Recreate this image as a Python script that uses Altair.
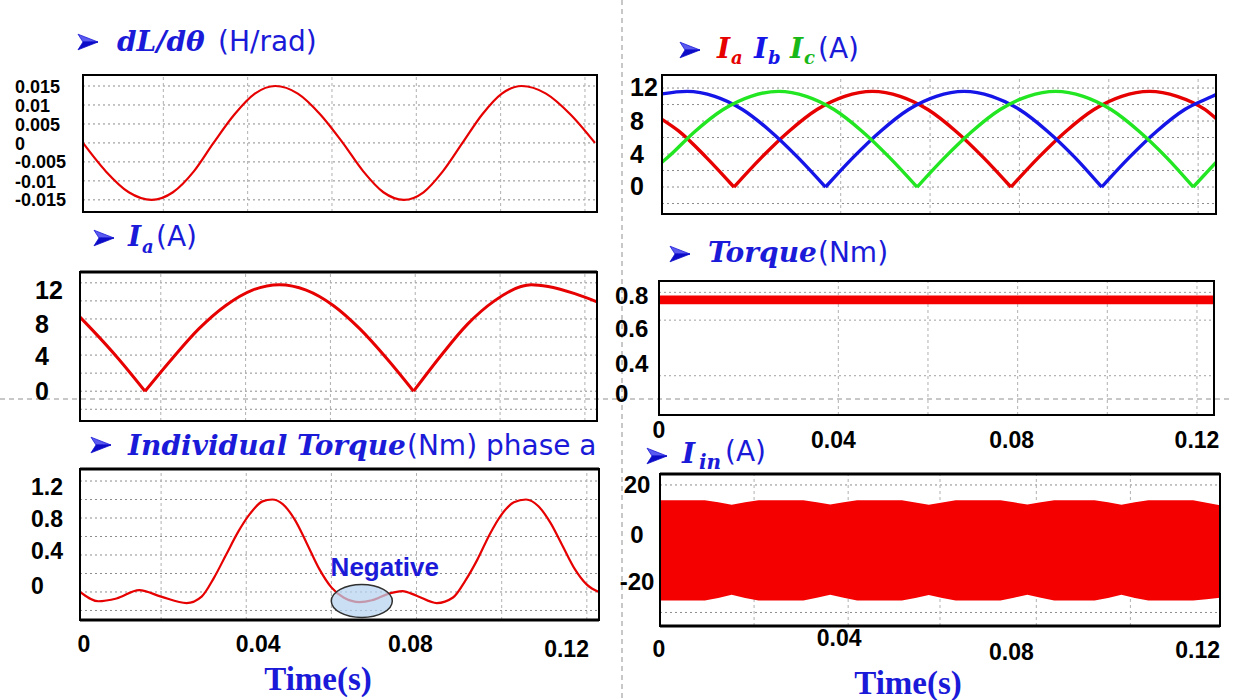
import altair as alt
import pandas as pd

# ---------------- data ----------------
# Panel 1 : dL/dtheta (H/rad)
dl_time = [0.0, 0.0057, 0.0114, 0.0171, 0.0224, 0.0276, 0.0325, 0.0377, 0.0428, 0.0479,
           0.0535, 0.0591, 0.0647, 0.0698, 0.0748, 0.0799, 0.0848, 0.0896, 0.0945, 0.0994,
           0.1043, 0.1092, 0.1153, 0.1214, 0.1275]
dl_value = [0.0, -0.0075, -0.013, -0.015, -0.013, -0.0075, 0.0, 0.0075, 0.013, 0.015,
            0.013, 0.0075, 0.0, -0.0075, -0.013, -0.015, -0.013, -0.0075, 0.0, 0.0075,
            0.013, 0.015, 0.013, 0.0075, 0.0]

# Panel 2 : Ia (A)
ia_time = [0.0, 0.0028, 0.0095, 0.0161, 0.0228, 0.0294, 0.0361, 0.0427, 0.0494, 0.0560,
           0.0627, 0.0693, 0.0760, 0.0826, 0.0893, 0.0959, 0.1026, 0.1092, 0.1117, 0.1159,
           0.1225, 0.128]
ia_value = [8.2, 6.9, 3.6, 0.0, 3.6, 6.9, 9.5, 11.2, 11.8, 11.2,
            9.5, 6.9, 3.6, 0.0, 3.9, 7.4, 10.0, 11.6, 11.8, 11.6,
            10.8, 9.9]
ia_start = [0.0, 8.2]

# Panel 3 : individual torque phase a (Nm)
tq_time = [0.0, 0.0045, 0.0090, 0.0146, 0.0200, 0.0263, 0.0300, 0.0330, 0.0360, 0.0390,
           0.0420, 0.0450, 0.0474, 0.0500, 0.0530, 0.0560, 0.0590, 0.0620, 0.0650, 0.0690,
           0.0720, 0.0760, 0.0795, 0.0830, 0.0880, 0.0920, 0.0950, 0.0980, 0.1010, 0.1040,
           0.1070, 0.1100, 0.1130, 0.1160, 0.1190, 0.1220, 0.1250, 0.1280]
tq_value = [0.0, -0.10, -0.07, 0.02, -0.05, -0.12, -0.05, 0.15, 0.40, 0.65,
            0.85, 0.98, 1.00, 0.95, 0.78, 0.52, 0.25, 0.05, -0.06, -0.11,
            -0.09, -0.02, 0.01, -0.04, -0.12, -0.06, 0.12, 0.35, 0.62, 0.84,
            0.97, 1.00, 0.93, 0.75, 0.50, 0.25, 0.08, 0.0]

# Panel 4 : three phase currents (A)
ia3_time = [0.0, 0.0037, 0.0099, 0.0161, 0.0223, 0.0285, 0.0347, 0.0409, 0.0471, 0.0533, 0.0595,
            0.0657, 0.0719, 0.0781, 0.0843, 0.0905, 0.0967, 0.1029, 0.1091, 0.1153, 0.1215, 0.1240]
ia3_value = [8.2, 6.8, 3.6, 0.0, 3.6, 6.8, 9.4, 11.0, 11.6, 11.0, 9.4,
             6.8, 3.6, 0.0, 3.6, 6.8, 9.4, 11.0, 11.6, 11.0, 9.4, 8.3]
ib3_time = [0.0, 0.0056, 0.0118, 0.0180, 0.0242, 0.0304, 0.0366, 0.0428, 0.0490, 0.0552, 0.0614,
            0.0676, 0.0738, 0.0800, 0.0862, 0.0924, 0.0984, 0.1046, 0.1108, 0.1170, 0.1232, 0.1240]
ib3_value = [11.3, 11.6, 11.0, 9.4, 6.8, 3.6, 0.0, 3.6, 6.8, 9.4, 11.0,
             11.6, 11.0, 9.4, 6.8, 3.6, 0.0, 3.6, 6.8, 9.4, 11.0, 11.2]
ic3_time = [0.0, 0.0013, 0.0075, 0.0137, 0.0199, 0.0261, 0.0323, 0.0385, 0.0447, 0.0509, 0.0571,
            0.0633, 0.0695, 0.0757, 0.0819, 0.0881, 0.0943, 0.1005, 0.1067, 0.1129, 0.1189, 0.1240]
ic3_value = [3.0, 3.6, 6.8, 9.4, 11.0, 11.6, 11.0, 9.4, 6.8, 3.6, 0.0,
             3.6, 6.8, 9.4, 11.0, 11.6, 11.0, 9.4, 6.8, 3.6, 0.0, 3.0]
ib3_start = [3.0, 11.3]
ic3_start = [0.0, 3.0]

# Panel 5 : total torque (Nm) - ripple band
te_time = [0.0, 0.1238]
te_low = [0.765, 0.765]
te_high = [0.835, 0.835]
te_start = [0.0, 0.8]

# Panel 6 : input current envelope (A)
iin_time = [0.0, 0.010, 0.013, 0.016, 0.019, 0.022, 0.032, 0.035, 0.038, 0.041, 0.044,
            0.054, 0.057, 0.060, 0.063, 0.066, 0.076, 0.079, 0.082, 0.085, 0.088,
            0.097, 0.100, 0.103, 0.106, 0.109, 0.119, 0.122, 0.125]
iin_upper = [14.0, 14.0, 13.2, 12.2, 13.2, 14.0, 14.0, 13.2, 12.3, 13.2, 14.0,
             14.0, 13.1, 12.2, 13.1, 14.0, 14.0, 13.2, 12.3, 13.2, 14.0,
             14.0, 13.2, 12.2, 13.2, 14.0, 14.0, 13.0, 12.0]
iin_lower = [-25.3, -25.3, -24.3, -23.0, -24.3, -25.3, -25.3, -24.2, -23.0, -24.2, -25.3,
             -25.3, -24.3, -23.1, -24.3, -25.3, -25.3, -24.2, -23.0, -24.2, -25.3,
             -25.3, -24.3, -23.0, -24.3, -25.3, -25.3, -24.8, -24.2]

# ticks / labels
p1_ticks = [0.015, 0.01, 0.005, 0.0, -0.005, -0.01, -0.015]
p1_labels = ["0.015", "0.01", "0.005", "0", "-0.005", "-0.01", "-0.015"]
p2_ticks = [12, 8, 4, 0]
p2_labels = ["12", "8", "4", "0"]
p2_grid = [-2, 0, 2, 4, 6, 8, 10, 12]
p3_ticks = [1.2, 0.8, 0.4, 0.0]
p3_labels = ["1.2", "0.8", "0.4", "0"]
p3_grid = [-0.2, 0.0, 0.2, 0.4, 0.6, 0.8, 1.0, 1.2]
p4_ticks = [12, 8, 4, 0]
p4_labels = ["12", "8", "4", "0"]
p4_grid = [-2, 0, 2, 4, 6, 8, 10, 12]
p5_ticks = [0.8, 0.6, 0.4, 0.0]
p5_labels = ["0.8", "0.6", "0.4", "0"]
p5_grid = [0.2, 0.64, 0.86]
p6_ticks = [20, 0, -20]
p6_labels = ["20", "0", "-20"]
p6_grid = [20, -30]
time_ticks = [0.0, 0.04, 0.08, 0.12]
time_labels = ["0", "0.04", "0.08", "0.12"]
left_vgrid = [0.02, 0.041, 0.062, 0.083, 0.104, 0.125]
right_vgrid = [0.04, 0.06, 0.08, 0.10, 0.12]
iin_vgrid = [0.021, 0.042, 0.0625, 0.084, 0.105]
negative_spot = [0.0695, -0.097]

# ---------------- styles ----------------
RED = "#e60000"
BAND_RED = "#f50000"
BLUE = "#1515e8"
GREEN = "#22e622"
TGREEN = "#18b818"
TBLUE = "#1a1ad8"
TICKFONT = "Liberation Sans"
SERIF = "DejaVu Serif"
SANS = "DejaVu Sans"

layers = []


def scales(xdom, xrng, ydom, yrng):
    xs = alt.Scale(domain=xdom, range=xrng, zero=False, nice=False)
    ys = alt.Scale(domain=ydom, range=yrng, zero=False, nice=False)
    return xs, ys


def frame(xs, ys, xdom, ydom, sw=2):
    d = pd.DataFrame({"t0": [xdom[0]], "t1": [xdom[1]], "v0": [ydom[0]], "v1": [ydom[1]]})
    return alt.Chart(d).mark_rect(fillOpacity=0, stroke="black", strokeWidth=sw).encode(
        x=alt.X("t0:Q", scale=xs, axis=None), x2=alt.X2("t1"),
        y=alt.Y("v0:Q", scale=ys, axis=None), y2=alt.Y2("v1"))


def edge(xs, ys, xdom, v, sw=3):
    d = pd.DataFrame({"t0": [xdom[0]], "t1": [xdom[1]], "v": [v]})
    return alt.Chart(d).mark_rule(color="black", strokeWidth=sw).encode(
        x=alt.X("t0:Q", scale=xs, axis=None), x2=alt.X2("t1"),
        y=alt.Y("v:Q", scale=ys, axis=None))


def hgrid(xs, ys, xdom, vals, color="#8c8c8c", dash=(2, 3)):
    d = pd.DataFrame({"v": vals, "t0": [xdom[0]] * len(vals), "t1": [xdom[1]] * len(vals)})
    return alt.Chart(d).mark_rule(color=color, strokeDash=list(dash), strokeWidth=1).encode(
        x=alt.X("t0:Q", scale=xs, axis=None), x2=alt.X2("t1"),
        y=alt.Y("v:Q", scale=ys, axis=None))


def vgrid(xs, ys, ydom, vals, color="#b0b0b0", dash=(3, 3)):
    d = pd.DataFrame({"t": vals, "v0": [ydom[0]] * len(vals), "v1": [ydom[1]] * len(vals)})
    return alt.Chart(d).mark_rule(color=color, strokeDash=list(dash), strokeWidth=1).encode(
        x=alt.X("t:Q", scale=xs, axis=None),
        y=alt.Y("v0:Q", scale=ys, axis=None), y2=alt.Y2("v1"))


def ylabels(ys, vals, texts, xpx, dys, size, align="left"):
    out = []
    for v, t, dy in zip(vals, texts, dys):
        d = pd.DataFrame({"v": [v], "lab": [t]})
        out.append(alt.Chart(d).mark_text(align=align, baseline="middle", font=TICKFONT,
                                          fontSize=size, fontWeight="bold", color="black", dy=dy)
                   .encode(y=alt.Y("v:Q", scale=ys, axis=None), x=alt.value(xpx), text="lab:N"))
    return out


def xlabels(xs, vals, texts, ypx, dxs, dys, size):
    out = []
    for v, t, dx, dy in zip(vals, texts, dxs, dys):
        d = pd.DataFrame({"t": [v], "lab": [t]})
        out.append(alt.Chart(d).mark_text(align="center", baseline="middle", font=TICKFONT,
                                          fontSize=size, fontWeight="bold", color="black", dx=dx, dy=dy)
                   .encode(x=alt.X("t:Q", scale=xs, axis=None), y=alt.value(ypx), text="lab:N"))
    return out


def line(xs, ys, t, v, color, sw, interp="linear"):
    d = pd.DataFrame({"t": t, "v": v, "i": list(range(len(t)))})
    return alt.Chart(d).mark_line(color=color, strokeWidth=sw, interpolate=interp).encode(
        x=alt.X("t:Q", scale=xs, axis=None), y=alt.Y("v:Q", scale=ys, axis=None),
        order=alt.Order("i:Q"))


def arch_line(xs, ys, t, v, color, sw):
    """Rectified current: smooth arches joined at sharp zero crossings."""
    rows, seg, k = [], 0, 0
    for i, (tt, vv) in enumerate(zip(t, v)):
        rows.append({"t": tt, "v": vv, "seg": seg, "i": k})
        k += 1
        if vv == 0 and 0 < i < len(t) - 1:
            seg += 1
            rows.append({"t": tt, "v": vv, "seg": seg, "i": k})
            k += 1
    d = pd.DataFrame(rows)
    return alt.Chart(d).mark_line(color=color, strokeWidth=sw, interpolate="monotone").encode(
        x=alt.X("t:Q", scale=xs, axis=None), y=alt.Y("v:Q", scale=ys, axis=None),
        detail="seg:N", order=alt.Order("i:Q"))


def vstart(xs, ys, lo_hi, color, sw):
    d = pd.DataFrame({"t": [0.0], "v0": [lo_hi[0]], "v1": [lo_hi[1]]})
    return alt.Chart(d).mark_rule(color=color, strokeWidth=sw).encode(
        x=alt.X("t:Q", scale=xs, axis=None), y=alt.Y("v0:Q", scale=ys, axis=None), y2=alt.Y2("v1"))


def txt(s, x, y, size, color, font, weight="normal", style="normal", baseline="alphabetic", align="left"):
    return alt.Chart(pd.DataFrame({"s": [s]})).mark_text(
        text=s, fontSize=size, color=color, font=font, fontWeight=weight, fontStyle=style,
        baseline=baseline, align=align).encode(x=alt.value(x), y=alt.value(y))


ARROW_TOP = "M-1,-0.78 L1,0 L-0.5,0 Z"
ARROW_BOT = "M-1,0.78 L1,0 L-0.5,0 Z"


def arrow(x, y):
    """Bullet arrowhead (two-tone, like the slide's 3-D arrow bullet)."""
    src = pd.DataFrame({"a": [0]})
    top = alt.Chart(src).mark_point(shape=ARROW_TOP, size=400, filled=True, fill="#5a5af0",
                                    stroke="#1a1ad8", strokeWidth=0.8, opacity=1).encode(
        x=alt.value(x), y=alt.value(y))
    bot = alt.Chart(src).mark_point(shape=ARROW_BOT, size=400, filled=True, fill="#0c0cc8",
                                    stroke="#0c0cc8", strokeWidth=0.8, opacity=1).encode(
        x=alt.value(x), y=alt.value(y))
    return [top, bot]


# ---------------- background guides ----------------
layers.append(alt.Chart(pd.DataFrame({"a": [0]})).mark_rule(color="#909090", strokeDash=[5, 4], strokeWidth=1)
              .encode(x=alt.value(622), y=alt.value(0), y2=alt.value(700)))
layers.append(alt.Chart(pd.DataFrame({"a": [0]})).mark_rule(color="#909090", strokeDash=[5, 4], strokeWidth=1)
              .encode(x=alt.value(0), x2=alt.value(1233), y=alt.value(399)))

# ---------------- panel 1 ----------------
x1d, y1d = [0, 0.128], [-0.0182, 0.0179]
xs1, ys1 = scales(x1d, [83, 597], y1d, [212, 75])
layers += [hgrid(xs1, ys1, x1d, p1_ticks), vgrid(xs1, ys1, y1d, left_vgrid),
           line(xs1, ys1, dl_time, dl_value, RED, 2.2, "monotone"), frame(xs1, ys1, x1d, y1d)]
layers += ylabels(ys1, p1_ticks, p1_labels, 15, [2, 2, 2, 2, 1, 2, 1], 18)
layers += arrow(88, 42)
layers += [txt("dL/d\u03b8", 117, 51, 28, TBLUE, SERIF, "bold", "italic"),
           txt("(H/rad)", 218, 51, 28, TBLUE, SANS)]

# ---------------- panel 2 ----------------
x2d, y2d = [0, 0.128], [-3.3, 13.2]
xs2, ys2 = scales(x2d, [80, 597], y2d, [421, 272])
layers += [hgrid(xs2, ys2, x2d, p2_grid), vgrid(xs2, ys2, y2d, left_vgrid),
           arch_line(xs2, ys2, ia_time, ia_value, RED, 3), vstart(xs2, ys2, ia_start, RED, 1.5),
           frame(xs2, ys2, x2d, y2d), edge(xs2, ys2, x2d, y2d[1])]
layers += ylabels(ys2, p2_ticks, p2_labels, 35, [8, 6, 2, 1], 25)
layers += arrow(104, 238)
layers += [txt("I", 128, 246, 28, TBLUE, SERIF, "bold", "italic"),
           txt("a", 142, 253, 18, TBLUE, SERIF, "bold", "italic"),
           txt("(A)", 156, 246, 28, TBLUE, SANS)]

# ---------------- panel 3 ----------------
x3d, y3d = [0, 0.128], [-0.303, 1.33]
xs3, ys3 = scales(x3d, [80, 599], y3d, [620, 469])
layers += [hgrid(xs3, ys3, x3d, p3_grid), vgrid(xs3, ys3, y3d, left_vgrid),
           line(xs3, ys3, tq_time, tq_value, RED, 2.2, "monotone"), frame(xs3, ys3, x3d, y3d),
           edge(xs3, ys3, x3d, y3d[1]), edge(xs3, ys3, x3d, y3d[0])]
ell = pd.DataFrame({"t": [negative_spot[0]], "v": [negative_spot[1]]})
layers.append(alt.Chart(ell).mark_point(
    shape="M-1,0 A1,0.54 0 1,1 1,0 A1,0.54 0 1,1 -1,0 Z", size=3721, filled=True,
    fill="#b5d3ef", fillOpacity=0.72, stroke="#303030", strokeWidth=1.5, opacity=1).encode(
    x=alt.X("t:Q", scale=xs3, axis=None), y=alt.Y("v:Q", scale=ys3, axis=None)))
neg = pd.DataFrame({"t": [negative_spot[0]], "v": [0.26], "s": ["Negative"]})
layers.append(alt.Chart(neg).mark_text(font=TICKFONT, fontSize=26, fontWeight="bold", color=TBLUE,
                                       align="center", baseline="middle", dx=23).encode(
    x=alt.X("t:Q", scale=xs3, axis=None), y=alt.Y("v:Q", scale=ys3, axis=None), text="s:N"))
layers += ylabels(ys3, p3_ticks, p3_labels, 31, [7, 2, -3, -5], 23)
layers += xlabels(xs3, time_ticks, time_labels, 645, [4, 16, 6, 0], [0, 0, 0, 5], 23)
layers += arrow(101, 445)
layers += [txt("Individual Torque", 128, 455, 28, TBLUE, SERIF, "bold", "italic"),
           txt("(Nm) phase a", 407, 455, 28, TBLUE, SANS),
           txt("Time(s)", 318, 690, 33, TBLUE, "Liberation Serif", "bold", align="center")]

# ---------------- panel 4 ----------------
x4d, y4d = [0, 0.124], [-3.27, 13.58]
xs4, ys4 = scales(x4d, [662, 1216], y4d, [214, 75])
layers += [hgrid(xs4, ys4, x4d, p4_grid), vgrid(xs4, ys4, y4d, right_vgrid),
           vstart(xs4, ys4, ib3_start, BLUE, 2), vstart(xs4, ys4, ic3_start, GREEN, 2),
           arch_line(xs4, ys4, ia3_time, ia3_value, RED, 3.4),
           arch_line(xs4, ys4, ib3_time, ib3_value, BLUE, 3.4),
           arch_line(xs4, ys4, ic3_time, ic3_value, GREEN, 3.4),
           frame(xs4, ys4, x4d, y4d)]
layers += ylabels(ys4, p4_ticks, p4_labels, 630, [0, 1, 1, 0], 25)
layers += arrow(690, 50)
layers += [txt("I", 717, 58, 28, RED, SERIF, "bold", "italic"),
           txt("a", 731, 64, 18, RED, SERIF, "bold", "italic"),
           txt("I", 754, 58, 28, BLUE, SERIF, "bold", "italic"),
           txt("b", 768, 64, 18, BLUE, SERIF, "bold", "italic"),
           txt("I", 790, 58, 28, TGREEN, SERIF, "bold", "italic"),
           txt("c", 804, 64, 18, TGREEN, SERIF, "bold", "italic"),
           txt("(A)", 818, 58, 28, TBLUE, SANS)]

# ---------------- panel 5 ----------------
x5d, y5d = [0, 0.1238], [-0.111, 0.95]
xs5, ys5 = scales(x5d, [659, 1214], y5d, [415, 281])
layers += [hgrid(xs5, ys5, x5d, p5_grid, color="#a0a0a0"), vgrid(xs5, ys5, y5d, right_vgrid)]
band5 = pd.DataFrame({"t": te_time, "lo": te_low, "hi": te_high})
layers.append(alt.Chart(band5).mark_area(color=BAND_RED, opacity=1).encode(
    x=alt.X("t:Q", scale=xs5, axis=None), y=alt.Y("lo:Q", scale=ys5, axis=None), y2=alt.Y2("hi")))
layers.append(vstart(xs5, ys5, te_start, BAND_RED, 2))
layers.append(frame(xs5, ys5, x5d, y5d))
layers += ylabels(ys5, p5_ticks, p5_labels, 615, [-3, 5, 15, -6], 24)
layers += xlabels(xs5, time_ticks, time_labels, 441, [0, -5, -6, 0], [-10, 0, 0, 0], 23)
layers += arrow(680, 254)
layers += [txt("Torque", 708, 262, 28, TBLUE, SERIF, "bold", "italic"),
           txt("(Nm)", 818, 262, 28, TBLUE, SANS)]

# ---------------- panel 6 ----------------
x6d, y6d = [0, 0.125], [-35.3, 24.3]
xs6, ys6 = scales(x6d, [660, 1220], y6d, [626, 474])
layers += [hgrid(xs6, ys6, x6d, p6_grid), vgrid(xs6, ys6, y6d, iin_vgrid)]
band6 = pd.DataFrame({"t": iin_time, "lo": iin_lower, "hi": iin_upper})
layers.append(alt.Chart(band6).mark_area(color=BAND_RED, opacity=1).encode(
    x=alt.X("t:Q", scale=xs6, axis=None), y=alt.Y("lo:Q", scale=ys6, axis=None), y2=alt.Y2("hi")))
layers += [frame(xs6, ys6, x6d, y6d), edge(xs6, ys6, x6d, y6d[1]), edge(xs6, ys6, x6d, y6d[0])]
layers += ylabels(ys6, p6_ticks, p6_labels, 637, [1, 0, -4], 24, align="center")
layers += xlabels(xs6, time_ticks, time_labels, 645, [-1, 0, -7, 0], [5, -6, 8, 6], 23)
layers += arrow(657, 456)
layers += [txt("I", 682, 463, 28, TBLUE, SERIF, "bold", "italic"),
           txt("in", 699, 469, 20, TBLUE, SERIF, "bold", "italic"),
           txt("(A)", 725, 461, 28, TBLUE, SANS),
           txt("Time(s)", 908, 694, 33, TBLUE, "Liberation Serif", "bold", align="center")]

chart = alt.layer(*layers).resolve_scale(x="independent", y="independent").properties(
    width=1233, height=700, autosize=alt.AutoSizeParams(type="none"), padding=0,
    background="white").configure_view(stroke=None)

chart.save("out.html", embed_options={"renderer": "svg", "actions": False})
